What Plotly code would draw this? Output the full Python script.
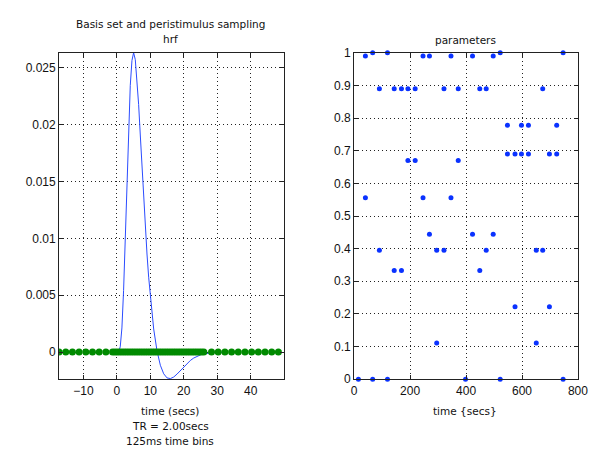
import plotly.graph_objects as go

# ---------------- data ----------------
# canonical HRF, time in seconds
hrf_t = [0, 0.5, 1, 1.5, 2, 2.5, 3, 3.5, 4, 4.5, 5, 5.5, 6, 6.5, 7, 7.5, 8, 8.5, 9, 9.5, 10,
         11, 12, 13, 14, 15, 16, 17, 18, 19, 20, 21, 22, 23, 24, 25, 26, 27, 28, 29, 30, 31, 32]
hrf_v = [0, 0.00002, 0.00046, 0.00212, 0.00541, 0.01002, 0.01512, 0.01983, 0.02344, 0.02562,
         0.02632, 0.02570, 0.02407, 0.02176, 0.01908, 0.01626, 0.01351, 0.01095, 0.00862, 0.00658,
         0.00481, 0.00203, 0.00010, -0.00116, -0.00191, -0.00227, -0.00233, -0.00219, -0.00193,
         -0.00161, -0.00128, -0.00098, -0.00073, -0.00052, -0.00036, -0.00025, -0.00016, -0.00011,
         -0.00007, -0.00004, -0.00003, -0.00002, -0.00001]

# peristimulus sampling times (green dots, all at 0)
pst = [-17.3, -15.3, -13.3, -11.3, -9.3, -7.3, -5.3, -3.3,
       -1.3, -0.6, 0.1, 0.8, 1.5, 2.2, 2.9, 3.6, 4.3, 5.0, 5.7, 6.4, 7.1, 7.8, 8.5, 9.2, 9.9,
       10.6, 11.3, 12.0, 12.7, 13.4, 14.1, 14.8, 15.5, 16.2, 16.9, 17.6, 18.3, 19.0, 19.7,
       20.4, 21.1, 21.8, 22.5, 23.2, 23.9, 24.6, 25.3, 26.0,
       28.3, 30.3, 32.3, 34.3, 36.3, 38.3, 40.3, 42.3, 44.3, 46.3, 48.3]

# parameters panel: onset time (secs) and parameter value
par_t = [40, 66, 90, 119, 143, 169, 192, 192, 218, 218, 40, 246, 246, 269, 321, 346, 346,
         372, 372, 423, 449, 472, 497, 522, 548, 548, 575, 598, 598, 623, 623, 674, 698, 724,
         724, 747,
         90, 143, 169, 269, 295, 295, 321, 423, 449, 472, 497, 575, 651, 651, 674, 698,
         15, 66, 119, 398, 522, 747]
par_v = [0.99, 1.0, 0.89, 1.0, 0.89, 0.89, 0.89, 0.67, 0.89, 0.67, 0.556, 0.99, 0.556, 0.99,
         0.89, 0.99, 0.556, 0.89, 0.67, 0.99, 0.89, 0.89, 0.99, 1.0, 0.778, 0.69, 0.69, 0.778,
         0.69, 0.778, 0.69, 0.89, 0.69, 0.778, 0.69, 1.0,
         0.395, 0.333, 0.333, 0.444, 0.395, 0.111, 0.395, 0.444, 0.333, 0.395, 0.444, 0.222,
         0.395, 0.111, 0.395, 0.222,
         0, 0, 0, 0, 0, 0]

left_xticks = [-10, 0, 10, 20, 30, 40]
left_yticks = [0, 0.005, 0.01, 0.015, 0.02, 0.025]
left_yticklabels = ["0", "0.005", "0.01", "0.015", "0.02", "0.025"]
right_xticks = [0, 200, 400, 600, 800]
right_yticks = [0, 0.1, 0.2, 0.3, 0.4, 0.5, 0.6, 0.7, 0.8, 0.9, 1]
right_yticklabels = ["0", "0.1", "0.2", "0.3", "0.4", "0.5", "0.6", "0.7", "0.8", "0.9", "1"]

W, H = 599, 454
fig = go.Figure()

fig.add_trace(go.Scatter(x=hrf_t, y=hrf_v, mode="lines",
                         line=dict(color="#2b4cff", width=1), xaxis="x", yaxis="y",
                         showlegend=False, hoverinfo="skip"))
fig.add_trace(go.Scatter(x=pst, y=[0] * len(pst), mode="markers",
                         marker=dict(color="#008a00", size=7, line=dict(width=0)),
                         xaxis="x", yaxis="y", showlegend=False, cliponaxis=True))
fig.add_trace(go.Scatter(x=par_t, y=par_v, mode="markers",
                         marker=dict(color="#0a32ff", size=5, symbol="circle", line=dict(width=0)),
                         xaxis="x2", yaxis="y2", showlegend=False, cliponaxis=False))

tickfont = dict(family="Liberation Sans, Arial, sans-serif", size=12, color="#111")
axcommon = dict(showline=True, linecolor="#222", linewidth=1, mirror="ticks",
                ticks="inside", ticklen=4, tickcolor="#222",
                showgrid=True, gridcolor="#222", griddash="1px,3px", gridwidth=1,
                zeroline=False, tickfont=tickfont, fixedrange=True)

def px(x):
    return x / W

def py(y):
    return 1 - y / H

fig.update_layout(
    width=W, height=H,
    margin=dict(l=0, r=0, t=0, b=0),
    paper_bgcolor="white", plot_bgcolor="white",
    xaxis=dict(domain=[px(57.3), px(287.3)], range=[-17.3, 50], tickvals=left_xticks,
               anchor="y", **axcommon),
    yaxis=dict(domain=[py(384), py(47.3)], range=[-0.00238, 0.02630], tickvals=left_yticks,
               ticktext=left_yticklabels, anchor="x", **axcommon),
    xaxis2=dict(domain=[px(359), px(587.7)], range=[0, 800], tickvals=right_xticks,
                anchor="y2", **axcommon),
    yaxis2=dict(domain=[py(384), py(47.3)], range=[0, 1], tickvals=right_yticks,
                ticktext=right_yticklabels, anchor="x2", **axcommon),
)

labfont = dict(family="DejaVu Sans, sans-serif", size=10.5, color="#111")
notes = [
    (171, 18, "Basis set and peristimulus sampling"),
    (171, 33, "hrf"),
    (473, 34, "parameters"),
    (171, 416.5, "time (secs)"),
    (171, 432, "TR = 2.00secs"),
    (171, 448, "125ms time bins"),
    (472, 416.5, "time {secs}"),
]
for (x, y, t) in notes:
    fig.add_annotation(x=px(x), y=py(y), xref="paper", yref="paper", text=t,
                       showarrow=False, font=labfont, xanchor="center", yanchor="middle")

fig.write_html("out.html",
               post_script="document.body.style.margin='0';document.body.style.overflow='hidden';",
               config={"displayModeBar": False})
